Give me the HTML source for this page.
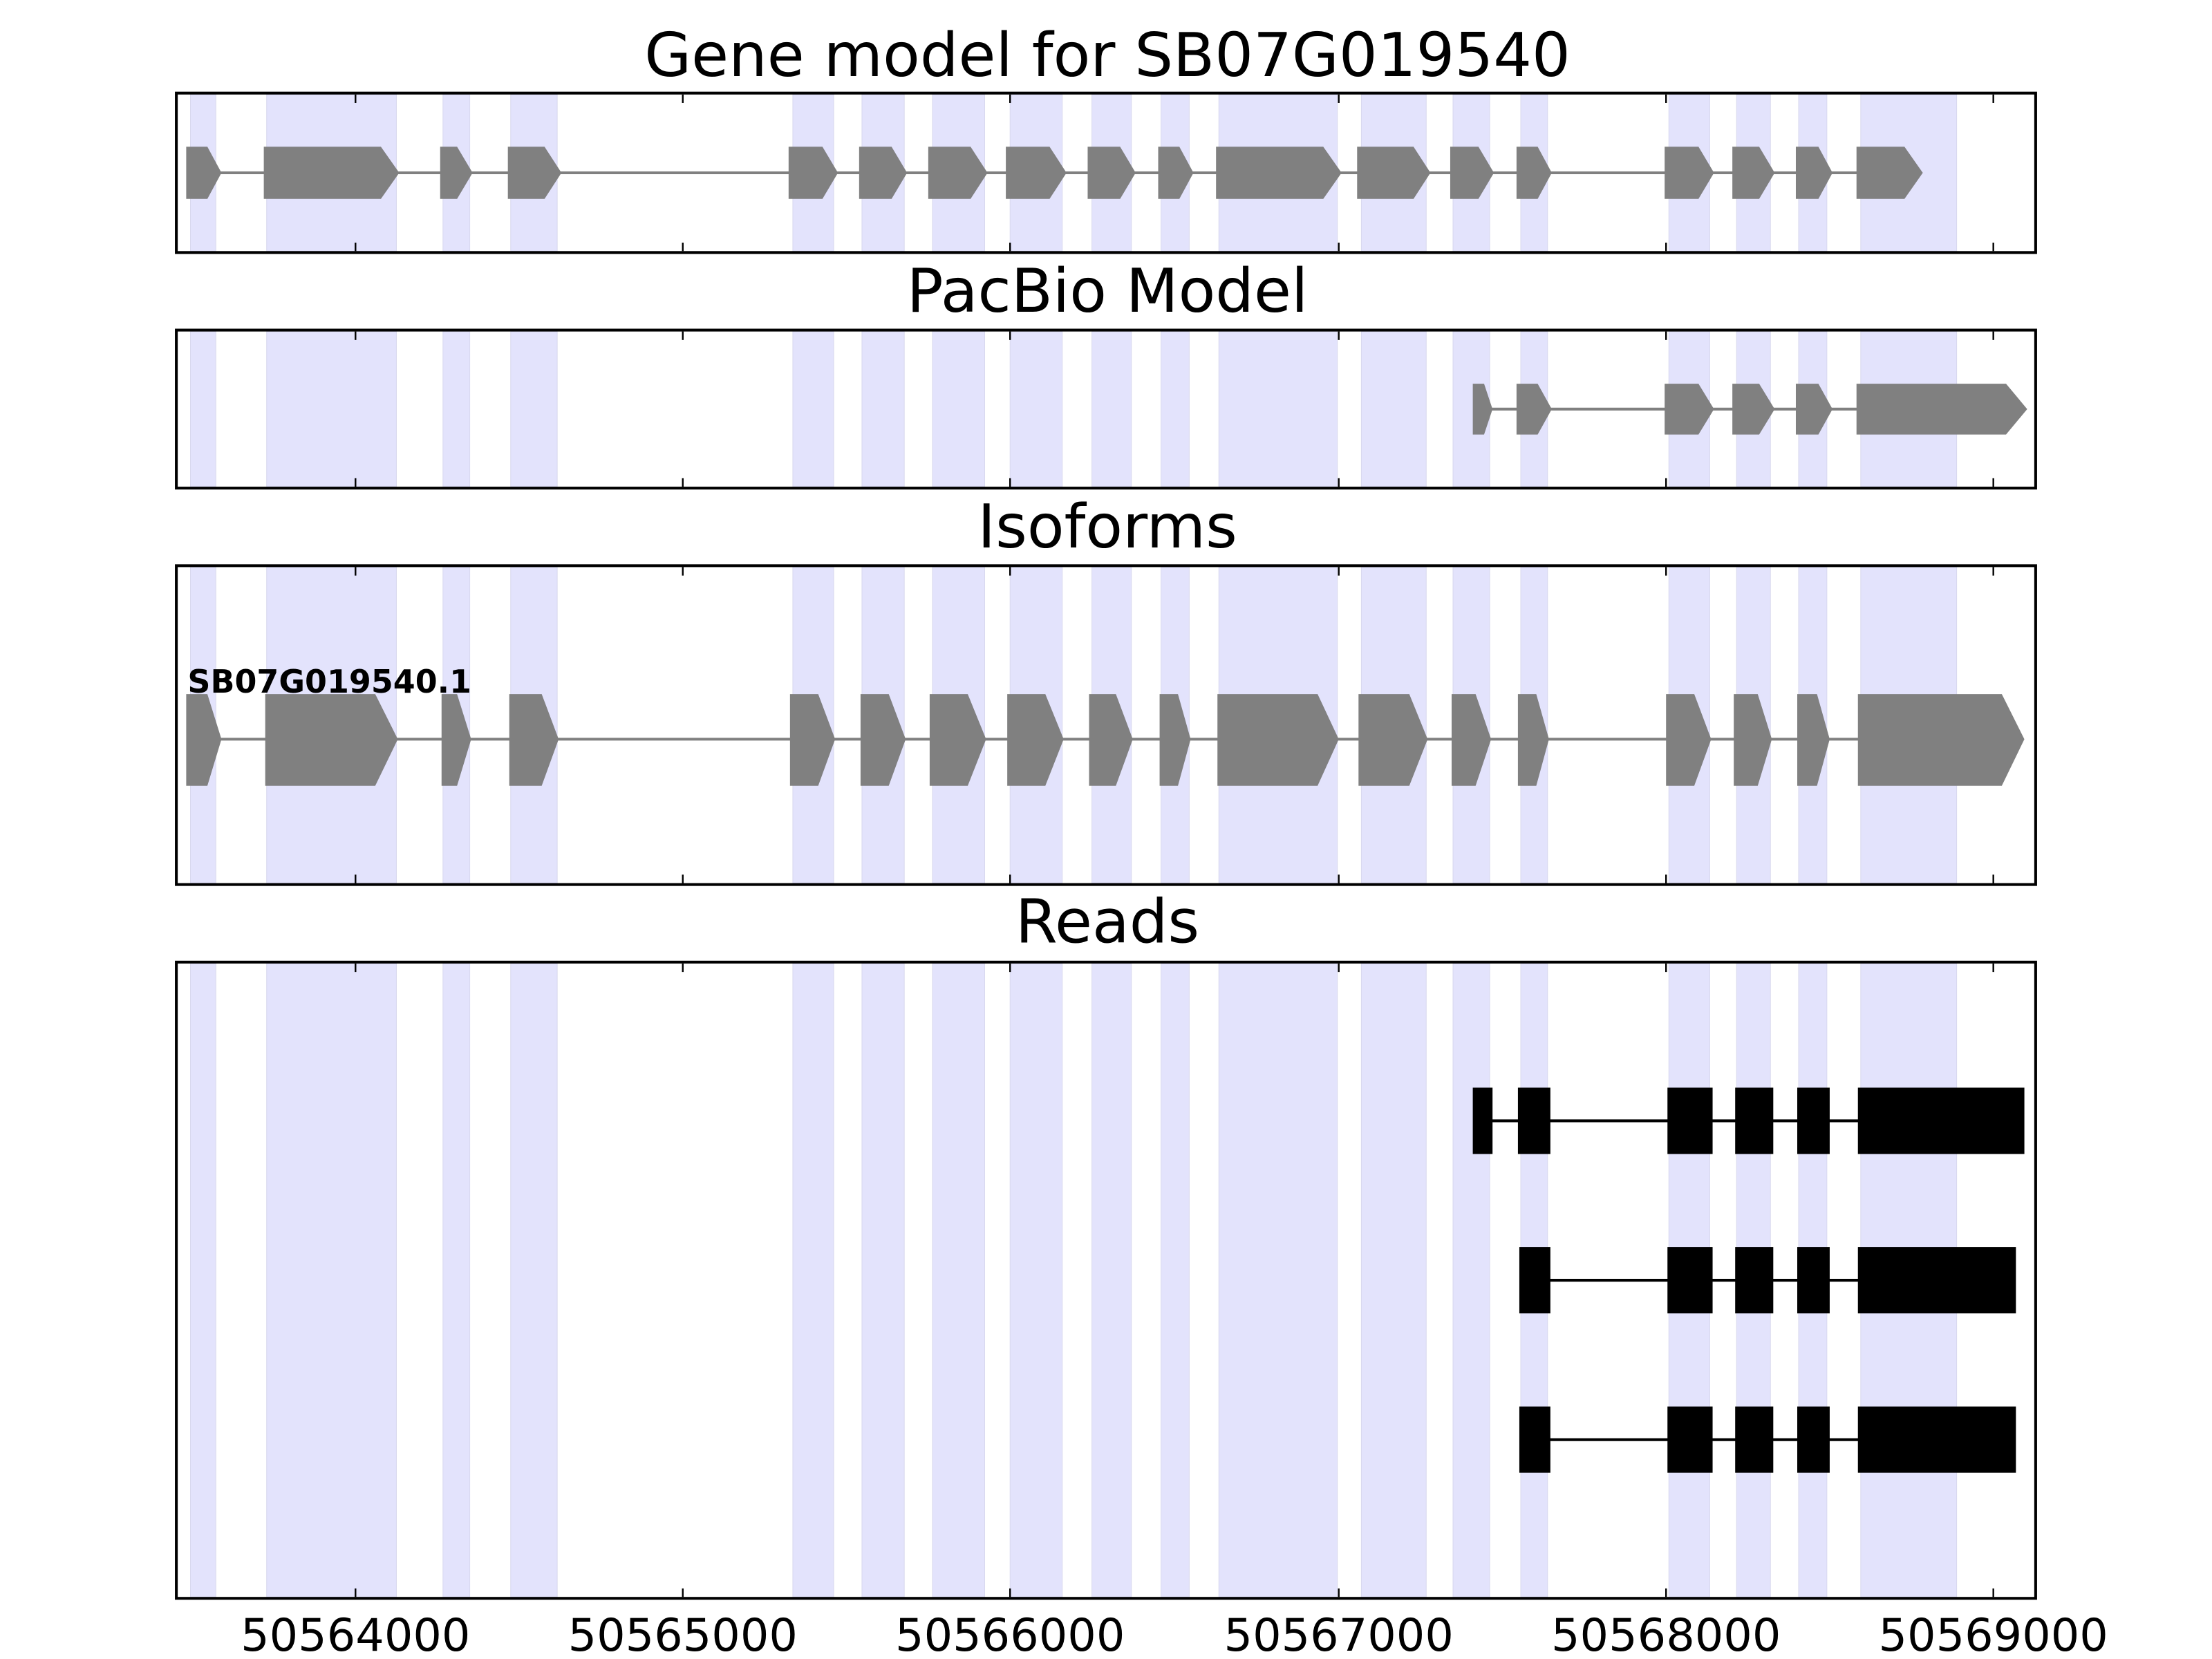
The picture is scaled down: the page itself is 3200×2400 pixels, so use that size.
<!DOCTYPE html>
<html><head><meta charset="utf-8"><style>html,body{margin:0;padding:0;background:#fff}svg{display:block}</style></head>
<body>
<svg xmlns="http://www.w3.org/2000/svg" width="3200" height="2400" viewBox="0 0 1568 1176" font-family="'DejaVu Sans','Liberation Sans',sans-serif">
<defs>
<g id="bands" fill="#e3e3fc" stroke="#d8d8ee" stroke-width="1" vector-effect="non-scaling-stroke">
<rect x="135" y="0" width="18" height="1" vector-effect="non-scaling-stroke"/><rect x="189" y="0" width="92" height="1" vector-effect="non-scaling-stroke"/><rect x="314" y="0" width="19" height="1" vector-effect="non-scaling-stroke"/><rect x="362" y="0" width="33" height="1" vector-effect="non-scaling-stroke"/><rect x="562" y="0" width="29" height="1" vector-effect="non-scaling-stroke"/><rect x="611" y="0" width="30" height="1" vector-effect="non-scaling-stroke"/><rect x="661" y="0" width="37" height="1" vector-effect="non-scaling-stroke"/><rect x="716" y="0" width="37" height="1" vector-effect="non-scaling-stroke"/><rect x="774" y="0" width="28" height="1" vector-effect="non-scaling-stroke"/><rect x="823" y="0" width="20" height="1" vector-effect="non-scaling-stroke"/><rect x="864" y="0" width="84" height="1" vector-effect="non-scaling-stroke"/><rect x="965" y="0" width="46" height="1" vector-effect="non-scaling-stroke"/><rect x="1030" y="0" width="26" height="1" vector-effect="non-scaling-stroke"/><rect x="1078" y="0" width="19" height="1" vector-effect="non-scaling-stroke"/><rect x="1183" y="0" width="29" height="1" vector-effect="non-scaling-stroke"/><rect x="1231" y="0" width="24" height="1" vector-effect="non-scaling-stroke"/><rect x="1275" y="0" width="20" height="1" vector-effect="non-scaling-stroke"/><rect x="1319" y="0" width="68" height="1" vector-effect="non-scaling-stroke"/>
</g>
<g id="ticks" stroke="#000" stroke-width="2.4">
<line x1="252" x2="252" y1="0" y2="1" vector-effect="non-scaling-stroke"/><line x1="484" x2="484" y1="0" y2="1" vector-effect="non-scaling-stroke"/><line x1="716" x2="716" y1="0" y2="1" vector-effect="non-scaling-stroke"/><line x1="949" x2="949" y1="0" y2="1" vector-effect="non-scaling-stroke"/><line x1="1181" x2="1181" y1="0" y2="1" vector-effect="non-scaling-stroke"/><line x1="1413" x2="1413" y1="0" y2="1" vector-effect="non-scaling-stroke"/>
</g>
</defs>
<g font-size="43" text-anchor="middle" fill="#000">
<text x="785" y="54">Gene model for SB07G019540</text>
<text x="785" y="221">PacBio Model</text>
<text x="785" y="388">Isoforms</text>
<text x="785" y="668">Reads</text>
</g>
<use href="#bands" transform="translate(0,67) scale(1,111)"/>
<use href="#bands" transform="translate(0,235) scale(1,110)"/>
<use href="#bands" transform="translate(0,402) scale(1,224)"/>
<use href="#bands" transform="translate(0,683) scale(1,449)"/>
<g fill="#808080">
<line x1="140" x2="1350" y1="122.5" y2="122.5" stroke="#808080" stroke-width="2"/>
<polygon points="132,104 147,104 157,122.5 147,141 132,141"/>
<polygon points="187,104 270,104 283,122.5 270,141 187,141"/>
<polygon points="312,104 324,104 335,122.5 324,141 312,141"/>
<polygon points="360,104 386,104 398,122.5 386,141 360,141"/>
<polygon points="559,104 583,104 594,122.5 583,141 559,141"/>
<polygon points="609,104 632,104 643,122.5 632,141 609,141"/>
<polygon points="658,104 688,104 700,122.5 688,141 658,141"/>
<polygon points="713,104 744,104 756,122.5 744,141 713,141"/>
<polygon points="771,104 794,104 805,122.5 794,141 771,141"/>
<polygon points="821,104 836,104 846,122.5 836,141 821,141"/>
<polygon points="862,104 938,104 951,122.5 938,141 862,141"/>
<polygon points="962,104 1002,104 1014,122.5 1002,141 962,141"/>
<polygon points="1028,104 1048,104 1059,122.5 1048,141 1028,141"/>
<polygon points="1075,104 1090,104 1100,122.5 1090,141 1075,141"/>
<polygon points="1180,104 1204,104 1215,122.5 1204,141 1180,141"/>
<polygon points="1228,104 1247,104 1258,122.5 1247,141 1228,141"/>
<polygon points="1273,104 1289,104 1299,122.5 1289,141 1273,141"/>
<polygon points="1316,104 1350,104 1363,122.5 1350,141 1316,141"/>
</g>
<g fill="#808080">
<line x1="1050" x2="1420" y1="290" y2="290" stroke="#808080" stroke-width="2"/>
<polygon points="1044,272 1052,272 1058,290 1052,308 1044,308"/>
<polygon points="1075,272 1090,272 1100,290 1090,308 1075,308"/>
<polygon points="1180,272 1204,272 1215,290 1204,308 1180,308"/>
<polygon points="1228,272 1247,272 1258,290 1247,308 1228,308"/>
<polygon points="1273,272 1289,272 1299,290 1289,308 1273,308"/>
<polygon points="1316,272 1422,272 1437,290 1422,308 1316,308"/>
</g>
<g fill="#808080">
<line x1="140" x2="1420" y1="524" y2="524" stroke="#808080" stroke-width="2"/>
<polygon points="132,492 147,492 157,524 147,557 132,557"/>
<polygon points="188,492 266,492 282,524 266,557 188,557"/>
<polygon points="313,492 324,492 334,524 324,557 313,557"/>
<polygon points="361,492 384,492 396,524 384,557 361,557"/>
<polygon points="560,492 580,492 592,524 580,557 560,557"/>
<polygon points="610,492 630,492 642,524 630,557 610,557"/>
<polygon points="659,492 686,492 699,524 686,557 659,557"/>
<polygon points="714,492 741,492 754,524 741,557 714,557"/>
<polygon points="772,492 791,492 803,524 791,557 772,557"/>
<polygon points="822,492 835,492 844,524 835,557 822,557"/>
<polygon points="863,492 934,492 949,524 934,557 863,557"/>
<polygon points="963,492 999,492 1012,524 999,557 963,557"/>
<polygon points="1029,492 1046,492 1057,524 1046,557 1029,557"/>
<polygon points="1076,492 1089,492 1098,524 1089,557 1076,557"/>
<polygon points="1181,492 1201,492 1213,524 1201,557 1181,557"/>
<polygon points="1229,492 1246,492 1256,524 1246,557 1229,557"/>
<polygon points="1274,492 1288,492 1297,524 1288,557 1274,557"/>
<polygon points="1317,492 1419,492 1435,524 1419,557 1317,557"/>
</g>
<text x="133" y="491" font-size="22.5" font-weight="bold" fill="#000">SB07G019540.1</text>
<g fill="#000" stroke="none">
<line x1="1050" x2="1430" y1="794.5" y2="794.5" stroke="#000" stroke-width="2"/>
<rect x="1044" y="771" width="14" height="47"/><rect x="1076" y="771" width="23" height="47"/><rect x="1182" y="771" width="32" height="47"/><rect x="1230" y="771" width="27" height="47"/><rect x="1274" y="771" width="23" height="47"/><rect x="1317" y="771" width="118" height="47"/>
<line x1="1080" x2="1420" y1="907.5" y2="907.5" stroke="#000" stroke-width="2"/>
<rect x="1077" y="884" width="22" height="47"/><rect x="1182" y="884" width="32" height="47"/><rect x="1230" y="884" width="27" height="47"/><rect x="1274" y="884" width="23" height="47"/><rect x="1317" y="884" width="112" height="47"/>
<line x1="1080" x2="1420" y1="1020.5" y2="1020.5" stroke="#000" stroke-width="2"/>
<rect x="1077" y="997" width="22" height="47"/><rect x="1182" y="997" width="32" height="47"/><rect x="1230" y="997" width="27" height="47"/><rect x="1274" y="997" width="23" height="47"/><rect x="1317" y="997" width="112" height="47"/>
</g>
<use href="#ticks" transform="translate(0,67) scale(1,6)"/><use href="#ticks" transform="translate(0,172) scale(1,6)"/>
<use href="#ticks" transform="translate(0,235) scale(1,6)"/><use href="#ticks" transform="translate(0,339) scale(1,6)"/>
<use href="#ticks" transform="translate(0,402) scale(1,6)"/><use href="#ticks" transform="translate(0,620) scale(1,6)"/>
<use href="#ticks" transform="translate(0,683) scale(1,6)"/><use href="#ticks" transform="translate(0,1126) scale(1,6)"/>
<g fill="none" stroke="#000" stroke-width="2">
<rect x="125" y="66" width="1318" height="113"/>
<rect x="125" y="234" width="1318" height="112"/>
<rect x="125" y="401" width="1318" height="226"/>
<rect x="125" y="682" width="1318" height="451"/>
</g>
<g font-size="32" text-anchor="middle" fill="#000">
<text x="252" y="1170">50564000</text><text x="484" y="1170">50565000</text><text x="716" y="1170">50566000</text><text x="949" y="1170">50567000</text><text x="1181" y="1170">50568000</text><text x="1413" y="1170">50569000</text>
</g>
</svg>
</body></html>
